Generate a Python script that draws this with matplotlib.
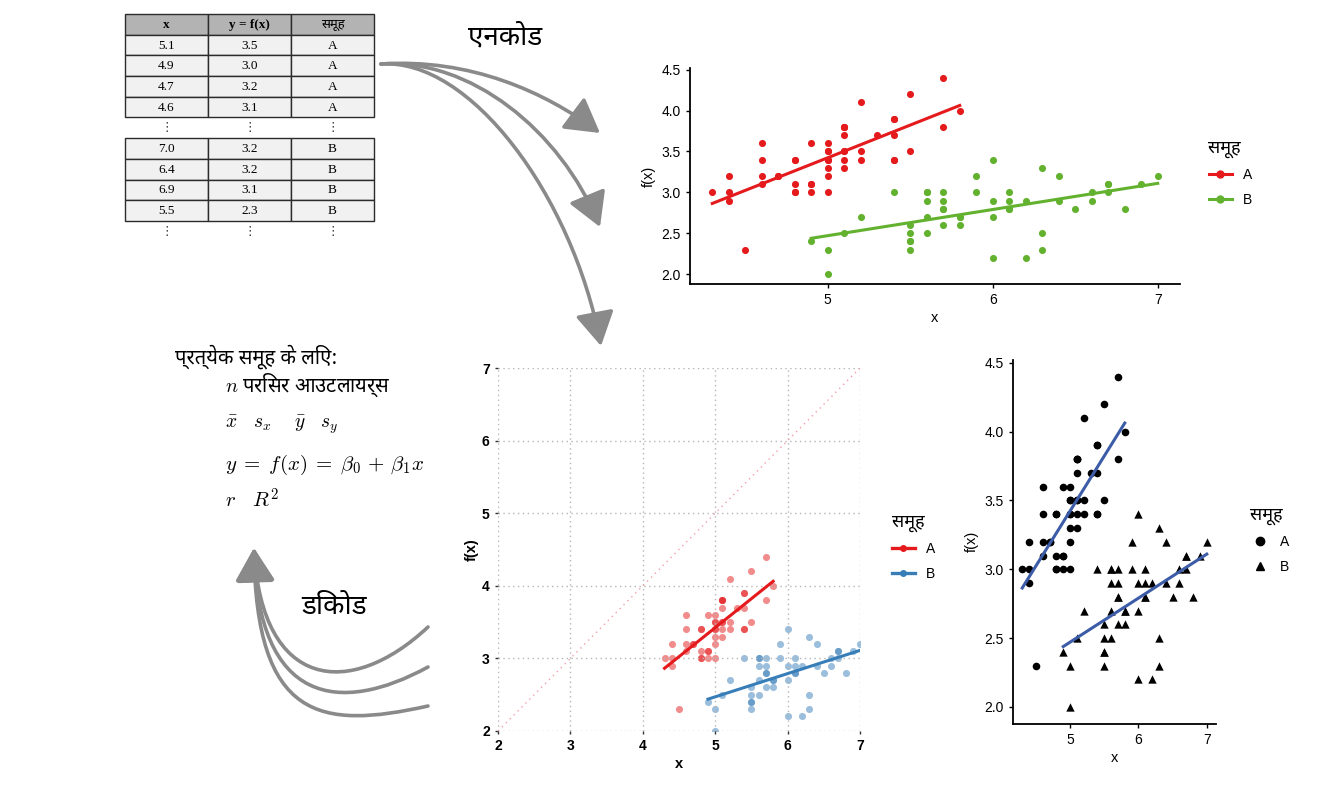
import numpy as np
import matplotlib
matplotlib.use('Agg')
import matplotlib.pyplot as plt
from matplotlib.lines import Line2D
from matplotlib.patches import Rectangle, FancyArrowPatch
from matplotlib.path import Path

# iris sepal length / width, group A = setosa, group B = versicolor
x_a = [5.1, 4.9, 4.7, 4.6, 5.0, 5.4, 4.6, 5.0, 4.4, 4.9, 5.4, 4.8, 4.8, 4.3, 5.8,
       5.7, 5.4, 5.1, 5.7, 5.1, 5.4, 5.1, 4.6, 5.1, 4.8, 5.0, 5.0, 5.2, 5.2, 4.7,
       4.8, 5.4, 5.2, 5.5, 4.9, 5.0, 5.5, 4.9, 4.4, 5.1, 5.0, 4.5, 4.4, 5.0, 5.1,
       4.8, 5.1, 4.6, 5.3, 5.0]
y_a = [3.5, 3.0, 3.2, 3.1, 3.6, 3.9, 3.4, 3.4, 2.9, 3.1, 3.7, 3.4, 3.0, 3.0, 4.0,
       4.4, 3.9, 3.5, 3.8, 3.8, 3.4, 3.7, 3.6, 3.3, 3.4, 3.0, 3.4, 3.5, 3.4, 3.2,
       3.1, 3.4, 4.1, 4.2, 3.1, 3.2, 3.5, 3.6, 3.0, 3.4, 3.5, 2.3, 3.2, 3.5, 3.8,
       3.0, 3.8, 3.2, 3.7, 3.3]
x_b = [7.0, 6.4, 6.9, 5.5, 6.5, 5.7, 6.3, 4.9, 6.6, 5.2, 5.0, 5.9, 6.0, 6.1, 5.6,
       6.7, 5.6, 5.8, 6.2, 5.6, 5.9, 6.1, 6.3, 6.1, 6.4, 6.6, 6.8, 6.7, 6.0, 5.7,
       5.5, 5.5, 5.8, 6.0, 5.4, 6.0, 6.7, 6.3, 5.6, 5.5, 5.5, 6.1, 5.8, 5.0, 5.6,
       5.7, 5.7, 6.2, 5.1, 5.7]
y_b = [3.2, 3.2, 3.1, 2.3, 2.8, 2.8, 3.3, 2.4, 2.9, 2.7, 2.0, 3.0, 2.2, 2.9, 2.9,
       3.1, 3.0, 2.7, 2.2, 2.5, 3.2, 2.8, 2.5, 2.8, 2.9, 3.0, 2.8, 3.0, 2.9, 2.6,
       2.4, 2.4, 2.7, 2.7, 3.0, 3.4, 3.1, 2.3, 3.0, 2.5, 2.6, 3.0, 2.6, 2.3, 2.7,
       3.0, 2.9, 2.9, 2.5, 2.8]
groups = ['A', 'B']

table_header = ['x', 'y = f(x)', 'समूह']
table_rows_a = [['5.1', '3.5', 'A'], ['4.9', '3.0', 'A'], ['4.7', '3.2', 'A'], ['4.6', '3.1', 'A']]
table_rows_b = [['7.0', '3.2', 'B'], ['6.4', '3.2', 'B'], ['6.9', '3.1', 'B'], ['5.5', '2.3', 'B']]

legend_title = 'समूह'
encode_label = 'एनकोड'
decode_label = 'डिकोड'
info_lines = ['प्रत्येक समूह के लिए:',
              r'$n$ परिसर आउटलायर्स',
              r'$\bar{x}\ \ \ s_x\ \ \ \ \bar{y}\ \ \ s_y$',
              r'$y\;=\;f(x)\;=\;\beta_0\,+\,\beta_1 x$',
              r'$r\ \ \ R^2$']

DEVA = ['Noto Sans Devanagari', 'DejaVu Sans']
plt.rcParams['font.family'] = ['Liberation Sans', 'Noto Sans Devanagari', 'DejaVu Sans']
plt.rcParams['mathtext.fontset'] = 'cm'

W, H = 1319, 800
fig = plt.figure(figsize=(W / 100, H / 100), dpi=100)

# overlay in pixel coordinates for table, arrows and text
ov = fig.add_axes([0, 0, 1, 1])
ov.set_xlim(0, W)
ov.set_ylim(H, 0)
ov.axis('off')

# table
col_edges = [125, 208, 291, 374]
row_h = 20.7
def draw_row(y0, cells, face, bold=False):
    for j, txt in enumerate(cells):
        x0, x1 = col_edges[j], col_edges[j + 1]
        ov.add_patch(Rectangle((x0, y0), x1 - x0, row_h, facecolor=face,
                               edgecolor='#2b2b2b', lw=1.0))
        fam = DEVA if txt == legend_title else ['Liberation Serif', 'DejaVu Serif']
        ov.text((x0 + x1) / 2, y0 + row_h / 2 + 0.5, txt, ha='center', va='center',
                fontsize=9.5, family=fam, fontweight='bold' if bold else 'normal')

def draw_gap(y0):
    for j in range(3):
        ov.text((col_edges[j] + col_edges[j + 1]) / 2, y0 + 10, '⋮', ha='center',
                va='center', fontsize=9, family=['DejaVu Sans'], color='#333333')

y = 14
draw_row(y, table_header, '#b3b3b3', bold=True)
y += row_h
for r in table_rows_a:
    draw_row(y, r, '#f1f1f1')
    y += row_h
draw_gap(y)
y += row_h
for r in table_rows_b:
    draw_row(y, r, '#f1f1f1')
    y += row_h
draw_gap(y)

# encode arrows
arrow_col = '#8a8a8a'
head = '-|>,head_length=1.3,head_width=0.75'
enc_paths = [
    [(381, 64), (470, 58), (545, 92), (600, 133)],
    [(381, 64), (470, 58), (560, 130), (600, 227)],
    [(381, 64), (470, 58), (572, 195), (601, 346)],
]
for pts in enc_paths:
    p = Path(pts, [Path.MOVETO, Path.CURVE4, Path.CURVE4, Path.CURVE4])
    ov.add_patch(FancyArrowPatch(path=p, arrowstyle=head, mutation_scale=16,
                                 color=arrow_col, lw=2.6))
ov.text(505, 37, encode_label, ha='center', va='center', fontsize=20, family=DEVA)

# decode arrows
dec_paths = [
    [(428, 627), (350, 700), (262, 690), (254, 548)],
    [(428, 667), (340, 715), (258, 705), (254, 548)],
    [(428, 706), (320, 730), (256, 720), (254, 548)],
]
for pts in dec_paths:
    p = Path(pts, [Path.MOVETO, Path.CURVE4, Path.CURVE4, Path.CURVE4])
    ov.add_patch(FancyArrowPatch(path=p, arrowstyle=head, mutation_scale=16,
                                 color=arrow_col, lw=2.6))
ov.text(334, 607, decode_label, ha='center', va='center', fontsize=20, family=DEVA)

# info text
ov.text(175, 357, info_lines[0], ha='left', va='center', fontsize=14.5, family=DEVA)
ov.text(225, 385, info_lines[1], ha='left', va='center', fontsize=14.5, family=DEVA)
ov.text(225, 425, info_lines[2], ha='left', va='center', fontsize=14)
ov.text(225, 465, info_lines[3], ha='left', va='center', fontsize=15)
ov.text(225, 500, info_lines[4], ha='left', va='center', fontsize=15)

def fit_line(xs, ys):
    xs = np.asarray(xs)
    b1, b0 = np.polyfit(xs, ys, 1)
    xx = np.array([xs.min(), xs.max()])
    return xx, b0 + b1 * xx

def classic(ax):
    for s in ['top', 'right']:
        ax.spines[s].set_visible(False)
    for s in ['left', 'bottom']:
        ax.spines[s].set_linewidth(1.3)
    ax.tick_params(length=3, width=1, labelsize=10, colors='black')
    ax.set_xlim(4.165, 7.135)
    ax.set_ylim(1.88, 4.52)
    ax.set_xticks([5, 6, 7])
    ax.set_yticks([2.0, 2.5, 3.0, 3.5, 4.0, 4.5])
    ax.set_yticklabels(['%.1f' % v for v in [2.0, 2.5, 3.0, 3.5, 4.0, 4.5]])
    ax.set_xlabel('x', fontsize=10.5, labelpad=3)
    ax.set_ylabel('f(x)', fontsize=10.5, labelpad=4)

# top-right: coloured scatter
ax1 = fig.add_axes([690 / W, 1 - 284 / H, 490 / W, 216 / H])
col_a, col_b = '#e41a1c', '#63b22f'
ax1.scatter(x_a, y_a, s=26, color=col_a, lw=0)
ax1.scatter(x_b, y_b, s=26, color=col_b, lw=0)
ax1.plot(*fit_line(x_a, y_a), color=col_a, lw=2.2)
ax1.plot(*fit_line(x_b, y_b), color=col_b, lw=2.2)
classic(ax1)
h1 = [Line2D([], [], color=c, lw=2.2, marker='o', ms=5) for c in (col_a, col_b)]
leg = ax1.legend(h1, groups, title=legend_title, loc='upper left', frameon=False,
                 bbox_to_anchor=(1196 / W, 1 - 126 / H), bbox_transform=fig.transFigure,
                 fontsize=10, handlelength=1.7, labelspacing=0.75, alignment='left')
leg.get_title().set_fontsize(13)
leg.get_title().set_family(DEVA)

# bottom-middle: square axes with identity line
ax2 = fig.add_axes([498 / W, 1 - 731 / H, 362 / W, 363 / H])
c2a, c2b = '#e41a1c', '#377eb8'
ax2.scatter(x_a, y_a, s=26, color=c2a, alpha=0.5, lw=0)
ax2.scatter(x_b, y_b, s=26, color=c2b, alpha=0.5, lw=0)
ax2.plot(*fit_line(x_a, y_a), color=c2a, lw=2.2)
ax2.plot(*fit_line(x_b, y_b), color=c2b, lw=2.2)
ax2.axline((2, 2), slope=1, color='#f2a0a6', lw=1, ls=(0, (1, 3)))
ax2.set_xlim(2, 7)
ax2.set_ylim(2, 7)
ax2.set_xticks(range(2, 8))
ax2.set_yticks(range(2, 8))
ax2.grid(True, color='#b5b5b5', ls=(0, (1, 2.5)), lw=1)
for s in ax2.spines.values():
    s.set_visible(False)
ax2.tick_params(length=2.5, width=1, labelsize=10, colors='#333333', labelcolor='black')
for t in ax2.get_xticklabels() + ax2.get_yticklabels():
    t.set_fontweight('bold')
ax2.set_xlabel('x', fontsize=10.5, fontweight='bold', labelpad=3)
ax2.set_ylabel('f(x)', fontsize=10.5, fontweight='bold', labelpad=2)
h2 = [Line2D([], [], color=c, lw=2.4, marker='o', ms=4) for c in (c2a, c2b)]
leg2 = ax2.legend(h2, groups, title=legend_title, loc='upper left', frameon=False,
                  bbox_to_anchor=(879 / W, 1 - 500 / H), bbox_transform=fig.transFigure,
                  fontsize=10, handlelength=1.7, labelspacing=0.75, alignment='left')
leg2.get_title().set_fontsize(13)
leg2.get_title().set_family(DEVA)

# bottom-right: black shapes, blue lines
ax3 = fig.add_axes([1013 / W, 1 - 723.5 / H, 203 / W, 363.5 / H])
ax3.scatter(x_a, y_a, s=30, color='black', marker='o', lw=0)
ax3.scatter(x_b, y_b, s=36, color='black', marker='^', lw=0)
ax3.plot(*fit_line(x_a, y_a), color='#3d5ca8', lw=2.2)
ax3.plot(*fit_line(x_b, y_b), color='#3d5ca8', lw=2.2)
classic(ax3)
h3 = [Line2D([], [], color='black', lw=0, marker=m, ms=6) for m in ('o', '^')]
leg3 = ax3.legend(h3, groups, title=legend_title, loc='upper left', frameon=False,
                  bbox_to_anchor=(1238 / W, 1 - 493 / H), bbox_transform=fig.transFigure,
                  fontsize=10, handlelength=1.3, labelspacing=0.75, alignment='left')
leg3.get_title().set_fontsize(13)
leg3.get_title().set_family(DEVA)

fig.savefig('out.png', dpi=100)
